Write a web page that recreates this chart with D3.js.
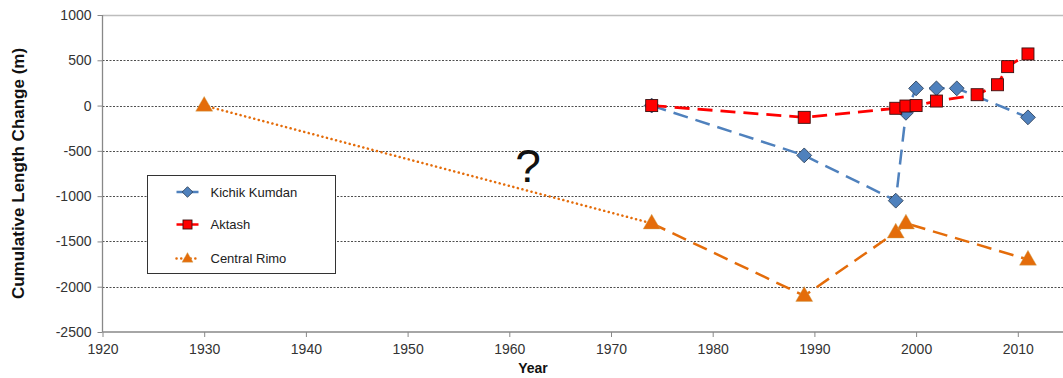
<!DOCTYPE html>
<html>
<head>
<meta charset="utf-8">
<script src="https://cdn.jsdelivr.net/npm/d3@7"></script>
<style>
  body { margin: 0; background: #fff; }
  svg { display: block; font-family: Arial, "Liberation Sans", sans-serif; }
</style>
</head>
<body>
<div id="chart"></div>
<script>
// values
var kkYears = [1974, 1989, 1998, 1999, 2000, 2002, 2004, 2011];
var kkValues = [0, -550, -1050, -80, 190, 190, 190, -130];

var akYears = [1974, 1989, 1998, 1999, 2000, 2002, 2006, 2008, 2009, 2011];
var akValues = [0, -130, -30, -5, 0, 50, 120, 230, 430, 570];

var crYears = [1930, 1974, 1989, 1998, 1999, 2011];
var crValues = [0, -1300, -2100, -1400, -1300, -1700];

var xTicks = [1920, 1930, 1940, 1950, 1960, 1970, 1980, 1990, 2000, 2010];
var yTicks = [1000, 500, 0, -500, -1000, -1500, -2000, -2500];
var seriesNames = ["Kichik Kumdan", "Aktash", "Central Rimo"];

var W = 1063, H = 378;
var plot = { left: 102.5, right: 1063, top: 15, bottom: 332 };

var svg = d3.select("#chart").append("svg")
    .attr("width", W)
    .attr("height", H);

// axis runs to 2015, a little past the picture's right edge
var x = d3.scaleLinear().domain([1920, 2015]).range([plot.left, plot.left + 95 * 10.17]);
var y = d3.scaleLinear().domain([-2500, 1000]).range([plot.bottom, plot.top]);

// gridlines
svg.append("g")
    .selectAll("line")
    .data(yTicks.filter(function (d) { return d > -2500 && d < 1000; }))
    .enter().append("line")
    .attr("x1", plot.left)
    .attr("x2", plot.right)
    .attr("y1", function (d) { return Math.round(y(d)) + 0.5; })
    .attr("y2", function (d) { return Math.round(y(d)) + 0.5; })
    .attr("stroke", "#222")
    .attr("stroke-width", 0.8)
    .attr("stroke-dasharray", "2,1.5");

// top border
svg.append("line")
    .attr("x1", plot.left).attr("x2", plot.right)
    .attr("y1", Math.round(y(1000)) + 0.5).attr("y2", Math.round(y(1000)) + 0.5)
    .attr("stroke", "#bdbdbd")
    .attr("stroke-width", 1.5);

// axes
var fmt = function (d) { return String(d); };

var yAxis = svg.append("g")
    .attr("transform", "translate(" + plot.left + ",0)")
    .call(d3.axisLeft(y).tickValues(yTicks).tickSize(5).tickPadding(6).tickFormat(fmt));

var xAxis = svg.append("g")
    .attr("transform", "translate(0," + plot.bottom + ")")
    .call(d3.axisBottom(x).tickValues(xTicks).tickSize(5).tickPadding(7).tickFormat(fmt));

[xAxis, yAxis].forEach(function (a) {
    a.select(".domain").attr("stroke", "#888").attr("stroke-width", 1.3);
    a.selectAll(".tick line").attr("stroke", "#888");
    a.selectAll(".tick text")
        .attr("fill", "#333")
        .style("font-size", "14px")
        .style("font-family", "Arial, 'Liberation Sans', sans-serif");
});
xAxis.select(".domain").attr("d", "M" + plot.left + ",0H" + plot.right);
yAxis.select(".domain").attr("d", "M0," + plot.top + "V" + plot.bottom);

// axis titles
svg.append("text")
    .attr("transform", "translate(24," + ((plot.top + plot.bottom) / 2) + ") rotate(-90)")
    .attr("text-anchor", "middle")
    .style("font-size", "17px")
    .style("font-weight", "bold")
    .attr("fill", "#111")
    .text("Cumulative Length Change (m)");

svg.append("text")
    .attr("x", 533)
    .attr("y", 373)
    .attr("text-anchor", "middle")
    .style("font-size", "14px")
    .style("font-weight", "bold")
    .attr("fill", "#111")
    .text("Year");

// question mark
svg.append("text")
    .attr("x", 528)
    .attr("y", 182)
    .attr("text-anchor", "middle")
    .style("font-size", "46px")
    .attr("fill", "#111")
    .text("?");

var line = d3.line()
    .x(function (d) { return x(d.year); })
    .y(function (d) { return y(d.value); });

function zip(years, values) {
    return years.map(function (yr, i) { return { year: yr, value: values[i] }; });
}

var kk = zip(kkYears, kkValues);
var ak = zip(akYears, akValues);
var cr = zip(crYears, crValues);

var blue = "#4F81BD", red = "#FF0000", orange = "#E46C0A";

function diamond(g, cx, cy, s) {
    g.append("rect")
        .attr("x", -s / 2).attr("y", -s / 2)
        .attr("width", s).attr("height", s)
        .attr("transform", "translate(" + cx + "," + cy + ") rotate(45)")
        .attr("fill", blue)
        .attr("stroke", "#2b3d55")
        .attr("stroke-width", 0.8);
}
function square(g, cx, cy, s) {
    g.append("rect")
        .attr("x", cx - s / 2).attr("y", cy - s / 2)
        .attr("width", s).attr("height", s)
        .attr("fill", red)
        .attr("stroke", "#3a1010")
        .attr("stroke-width", 0.9);
}
function triangle(g, cx, cy, s) {
    var h = s * 0.87;
    g.append("path")
        .attr("d", "M" + cx + "," + (cy - h * 0.62) + "L" + (cx + s / 2) + "," + (cy + h * 0.38) +
            "L" + (cx - s / 2) + "," + (cy + h * 0.38) + "Z")
        .attr("fill", orange)
        .attr("stroke", "#c9a65a")
        .attr("stroke-width", 0.4);
}

// Central Rimo: dotted to 1974, dashed after
var gCr = svg.append("g");
gCr.append("path")
    .datum(cr.slice(0, 2))
    .attr("d", line)
    .attr("fill", "none")
    .attr("stroke", orange)
    .attr("stroke-width", 2.5)
    .attr("stroke-linecap", "round")
    .attr("stroke-dasharray", "0.1,4.6");
gCr.append("path")
    .datum(cr.slice(1))
    .attr("d", line)
    .attr("fill", "none")
    .attr("stroke", orange)
    .attr("stroke-width", 2.5)
    .attr("stroke-dasharray", "15,8");

// Kichik Kumdan
var gKk = svg.append("g");
gKk.append("path")
    .datum(kk)
    .attr("d", line)
    .attr("fill", "none")
    .attr("stroke", blue)
    .attr("stroke-width", 2.5)
    .attr("stroke-dasharray", "15,8");

// Aktash line
var gAk = svg.append("g");
gAk.append("path")
    .datum(ak)
    .attr("d", line)
    .attr("fill", "none")
    .attr("stroke", red)
    .attr("stroke-width", 2.8)
    .attr("stroke-dasharray", "15,8");

cr.forEach(function (d) { triangle(gCr, x(d.year), y(d.value), 17); });
kk.forEach(function (d) { diamond(gKk, x(d.year), y(d.value), 10.5); });
ak.forEach(function (d) { square(gAk, x(d.year), y(d.value), 12); });

// legend
var lg = svg.append("g").attr("transform", "translate(147.5,175.5)");
lg.append("rect")
    .attr("width", 188).attr("height", 98)
    .attr("fill", "#fff")
    .attr("stroke", "#333")
    .attr("stroke-width", 1);

var rows = [16.5, 49, 83];
rows.forEach(function (ry, i) {
    var row = lg.append("g");
    var col = [blue, red, orange][i];
    if (i < 2) {
        row.append("line")
            .attr("x1", 29).attr("x2", 51).attr("y1", ry).attr("y2", ry)
            .attr("stroke", col).attr("stroke-width", 2.5);
    } else {
        row.append("line")
            .attr("x1", 29).attr("x2", 52).attr("y1", ry).attr("y2", ry)
            .attr("stroke", col).attr("stroke-width", 2.5)
            .attr("stroke-linecap", "round")
            .attr("stroke-dasharray", "0.1,4.6");
    }
    if (i === 0) diamond(row, 40, ry, 7.5);
    if (i === 1) square(row, 40, ry, 9);
    if (i === 2) triangle(row, 40, ry, 11);
    row.append("text")
        .attr("x", 63).attr("y", ry + 4.5)
        .style("font-size", "13px")
        .attr("fill", "#222")
        .text(seriesNames[i]);
});
</script>
</body>
</html>
